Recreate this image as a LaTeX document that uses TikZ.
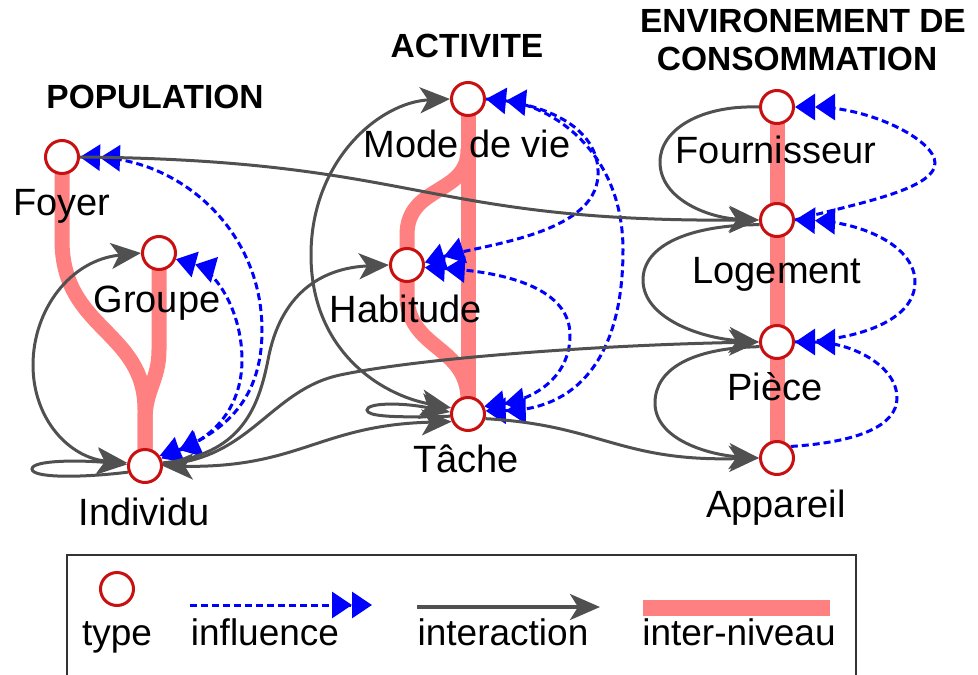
\documentclass[tikz,border=0pt]{standalone}
\usepackage{fontspec}
\setmainfont{Liberation Sans}
\usetikzlibrary{arrows.meta}
\definecolor{tred}{RGB}{200,16,16}
\definecolor{pinkc}{RGB}{255,128,128}
\definecolor{grayc}{RGB}{80,80,80}
\definecolor{bluec}{RGB}{0,0,255}
\pgfdeclarelayer{bg}
\pgfdeclarelayer{mid}
\pgfsetlayers{bg,mid,main}
\tikzset{
 typ/.style={circle, draw=tred, line width=3pt, fill=white, minimum size=33pt, inner sep=0pt},
 lbl/.style={anchor=base, inner sep=0pt, font=\fontsize{38}{40}\selectfont},
 leglbl/.style={anchor=base, inner sep=0pt, font=\fontsize{37}{40}\selectfont},
 ttl/.style={anchor=base, inner sep=0pt, font=\fontsize{33.5}{36}\selectfont\bfseries},
 lvlline/.style={draw=pinkc, line width=15pt, line cap=round, line join=round},
 intline/.style={draw=grayc, line width=3pt},
 inflline/.style={draw=bluec, line width=3pt, dash pattern=on 7pt off 4pt},
 giarr/.style={-{Stealth[length=30pt,width=26pt,inset=8pt]}},
 giboth/.style={{Stealth[length=30pt,width=26pt,inset=8pt]}-{Stealth[length=30pt,width=26pt,inset=8pt]}},
 biarr/.style={-{Triangle[length=20pt,width=26pt]Triangle[length=20pt,width=26pt]}},
 biboth/.style={{Triangle[length=20pt,width=26pt]Triangle[length=20pt,width=26pt]}-{Triangle[length=20pt,width=26pt]Triangle[length=20pt,width=26pt]}},
}
\begin{document}
\begin{tikzpicture}[x=1pt,y=-1pt]
\useasboundingbox (0,0) rectangle (978,675);

% titles
\node[ttl] (tPop) at (155,108) {POPULATION};
\node[ttl] (tAct) at (467,57) {ACTIVITE};
\node[ttl] (tEnv1) at (803,32) {ENVIRONEMENT DE};
\node[ttl] (tEnv2) at (797,70) {CONSOMMATION};

% type nodes
\node[typ] (foyer) at (62,157) {};
\node[typ] (groupe) at (159,253) {};
\node[typ] (indiv) at (145,466) {};
\node[typ] (mdv) at (468,99) {};
\node[typ] (hab) at (407,265) {};
\node[typ] (tache) at (468,414) {};
\node[typ] (four) at (777,107) {};
\node[typ] (loge) at (777,220) {};
\node[typ] (piece) at (777,342) {};
\node[typ] (appar) at (777,458) {};

% labels
\node[lbl] (lFoyer) at (62,215) {Foyer};
\node[lbl] (lGroupe) at (157,312) {Groupe};
\node[lbl] (lIndiv) at (144,525) {Individu};
\node[lbl] (lMdv) at (467,157) {Mode de vie};
\node[lbl] (lHab) at (406,322) {Habitude};
\node[lbl] (lTache) at (466,472) {Tâche};
\node[lbl] (lFour) at (776,163) {Fournisseur};
\node[lbl] (lLoge) at (777,283) {Logement};
\node[lbl] (lPiece) at (775,400) {Pièce};
\node[lbl] (lAppar) at (776,517) {Appareil};

% inter-niveau
\begin{pgfonlayer}{bg}
\draw[lvlline] (foyer.center) -- (62,240) .. controls (62,330) and (145,330) .. (145,410) -- (indiv.center);
\draw[lvlline] (groupe.center) -- (159,350) .. controls (159,380) and (145,390) .. (145,420) -- (indiv.center);
\draw[lvlline] (mdv.center) -- (tache.center);
\draw[lvlline] (468,150) .. controls (468,195) and (407,185) .. (407,235) -- (hab.center) -- (407,295) .. controls (407,350) and (468,345) .. (468,400);
\draw[lvlline] (four.center) -- (appar.center);
\end{pgfonlayer}

\begin{pgfonlayer}{mid}
% influence
\draw[inflline, biboth] (indiv.25) .. controls (225,430) and (262,400) .. (262,330) .. controls (262,230) and (180,160) .. (foyer.east);
\draw[inflline, biboth] (indiv.35) .. controls (210,440) and (242,410) .. (242,360) .. controls (242,310) and (215,270) .. (groupe.-20);
\draw[inflline, biboth] (tache.10) .. controls (575,410) and (623,360) .. (623,250) .. controls (623,150) and (550,105) .. (mdv.east);
\draw[inflline, biarr] (mdv.east) .. controls (540,102) and (600,125) .. (598,175) .. controls (596,235) and (480,245) .. (hab.8);
\draw[inflline, biboth] (tache.25) .. controls (530,400) and (570,380) .. (570,335) .. controls (570,290) and (510,272) .. (hab.-8);
\draw[inflline, biarr] (loge.east) .. controls (854,204) and (935,190) .. (935,163) .. controls (935,140) and (870,107) .. (four.east);
\draw[inflline, biarr] (piece.east) .. controls (860,340) and (915,320) .. (915,282) .. controls (915,245) and (860,222) .. (loge.east);
\draw[inflline, biarr] (appar.40) .. controls (860,442) and (897,425) .. (897,398) .. controls (897,365) and (850,342) .. (piece.east);

% interaction
\draw[intline, giarr] (foyer.east) .. controls (420,160) and (420,222) .. (loge.west);
\draw[intline, giarr] (indiv.10) .. controls (240,455) and (258,410) .. (268,360) .. controls (280,295) and (320,268) .. (hab.west);
\draw[intline, giarr] (indiv.5) .. controls (250,460) and (270,390) .. (340,375) .. controls (420,358) and (600,345) .. (piece.west);
\draw[intline, giboth] (indiv.east) .. controls (300,468) and (320,425) .. (tache.205);
\draw[intline, giarr] (tache.-15) .. controls (600,425) and (620,462) .. (appar.west);
\draw[intline, giarr] (indiv.200) .. controls (80,478) and (32,478) .. (32,469) .. controls (32,460) and (80,460) .. (indiv.175);
\draw[intline, giboth] (groupe.west) .. controls (70,260) and (33,310) .. (33,365) .. controls (33,420) and (70,458) .. (indiv.170);
\draw[intline, giboth] (mdv.west) .. controls (380,102) and (311,160) .. (311,255) .. controls (311,350) and (380,395) .. (tache.160);
\draw[intline, giarr] (tache.187) .. controls (390,418) and (367,416) .. (367,410) .. controls (367,403) and (400,402) .. (tache.174);
\draw[intline, giarr] (four.west) .. controls (700,105) and (660,130) .. (660,162) .. controls (660,200) and (710,218) .. (loge.west);
\draw[intline, giarr] (loge.195) .. controls (690,225) and (643,245) .. (643,280) .. controls (643,318) and (700,338) .. (piece.west);
\draw[intline, giarr] (piece.195) .. controls (690,348) and (655,370) .. (655,403) .. controls (655,440) and (710,455) .. (appar.west);
\end{pgfonlayer}

% legend
\draw[line width=1.5pt, draw=black!80] (67,680) |- (856,555) -- (856,680);
\node[typ] (lgType) at (117,589) {};
\node[leglbl] (lgTypeL) at (117,645) {type};
\coordinate (lgI1) at (190,605);
\coordinate (lgI2) at (372,605);
\draw[inflline, biarr] (lgI1) -- (lgI2);
\node[leglbl] (lgInflL) at (265,645) {influence};
\coordinate (lgA1) at (417,607);
\coordinate (lgA2) at (600,607);
\draw[intline, line width=3.5pt, giarr] (lgA1) -- (lgA2);
\node[leglbl] (lgIntL) at (503,645) {interaction};
\coordinate (lgL1) at (643,608);
\coordinate (lgL2) at (830,608);
\draw[lvlline, line width=16pt, line cap=butt] (lgL1) -- (lgL2);
\node[leglbl] (lgLvlL) at (739,645) {inter-niveau};
\end{tikzpicture}
\end{document}
